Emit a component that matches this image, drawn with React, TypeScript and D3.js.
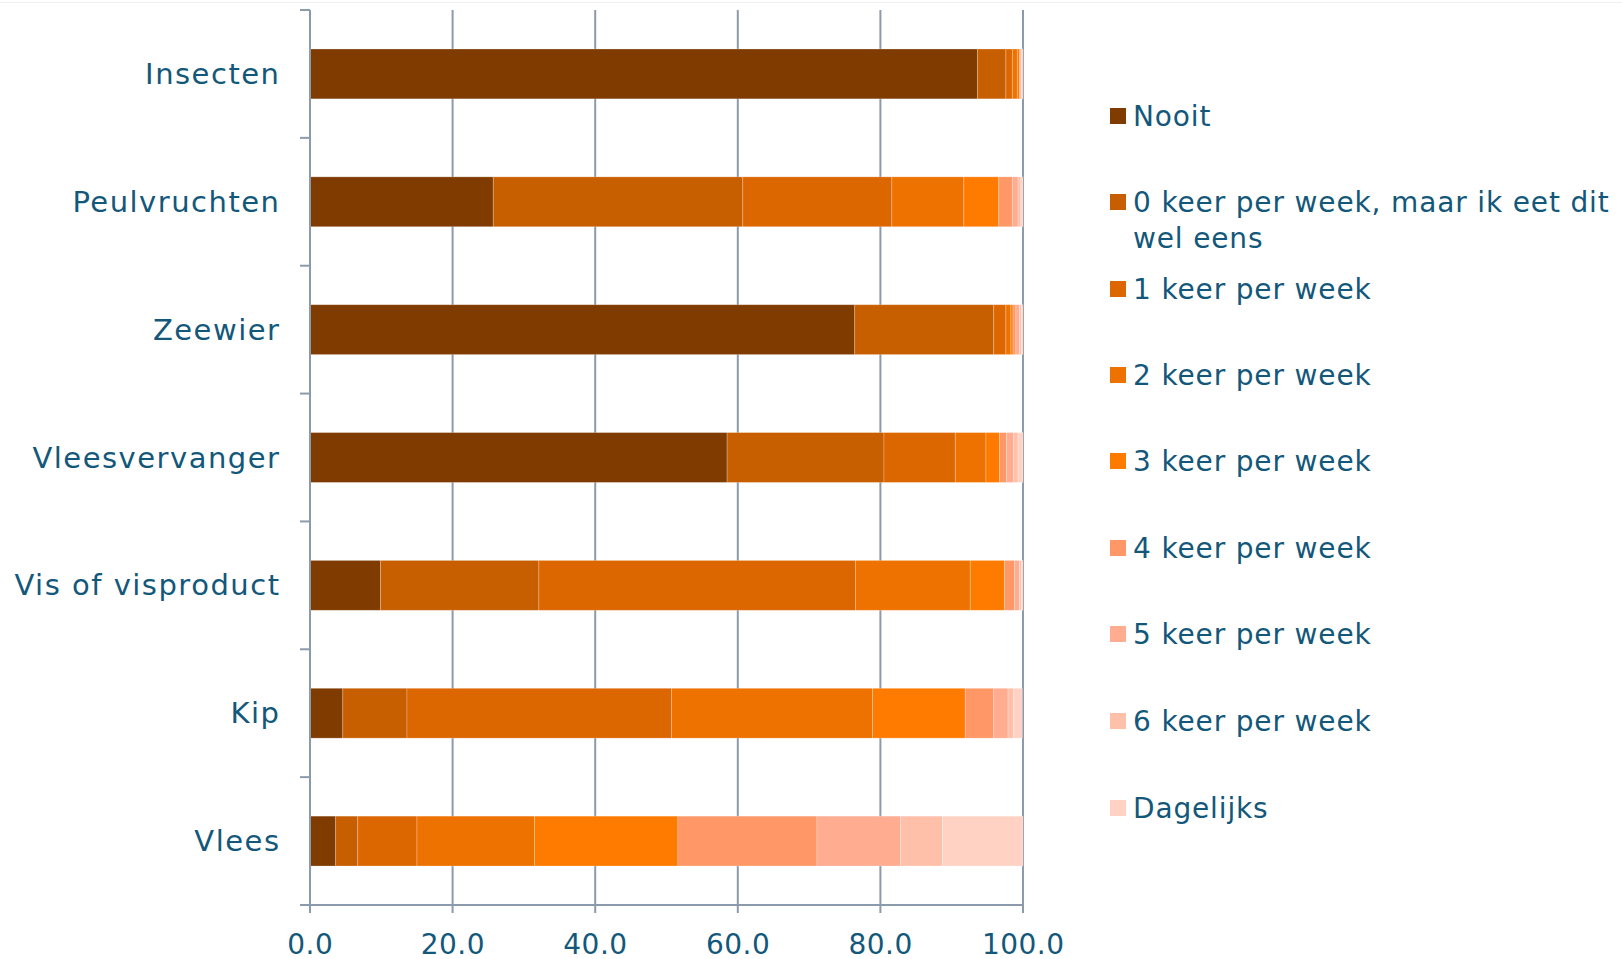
import React from "react";
import * as d3 from "d3";

const categories = ["Insecten", "Peulvruchten", "Zeewier", "Vleesvervanger", "Vis of visproduct", "Kip", "Vlees"];
const seriesNames = [
  "Nooit",
  "0 keer per week, maar ik eet dit wel eens",
  "1 keer per week",
  "2 keer per week",
  "3 keer per week",
  "4 keer per week",
  "5 keer per week",
  "6 keer per week",
  "Dagelijks",
];
const colors = ["#7F3B00", "#C75E00", "#DC6600", "#EE7200", "#FF7B00", "#FF9766", "#FFAC90", "#FFC0AA", "#FFD2C4"];
// values per category, in series order
const insecten = [93.6, 4.0, 0.9, 0.7, 0.3, 0.2, 0.1, 0.1, 0.1];
const peulvruchten = [25.7, 35.0, 20.9, 10.1, 4.9, 1.9, 0.8, 0.4, 0.3];
const zeewier = [76.4, 19.5, 1.7, 0.7, 0.3, 0.4, 0.5, 0.3, 0.2];
const vleesvervanger = [58.5, 22.0, 10.0, 4.3, 1.9, 1.0, 1.0, 0.6, 0.7];
const vis = [9.9, 22.2, 44.4, 16.1, 4.8, 1.4, 0.7, 0.3, 0.2];
const kip = [4.6, 9.0, 37.1, 28.2, 13.0, 4.0, 2.0, 0.8, 1.2];
const vlees = [3.6, 3.1, 8.3, 16.5, 20.1, 19.5, 11.7, 5.9, 11.3];
const xTicks = [0, 20, 40, 60, 80, 100];

const values = [insecten, peulvruchten, zeewier, vleesvervanger, vis, kip, vlees];

const TEXT = "#13587A";
const AXIS = "#8C9BAB";
const FONT = "'DejaVu Sans', Verdana, sans-serif";

export default function App() {
  const W = 1622, H = 959;
  const left = 310, right = 1023, top = 10, bottom = 905;
  const x = d3.scaleLinear().domain([0, 100]).range([left, right]);
  const y = d3.scaleBand<string>().domain(categories).range([top, bottom]).paddingInner(0.61).paddingOuter(0.305);
  const yb = d3.scaleBand<string>().domain(categories).range([top, bottom]);

  const rows = categories.map((c, i) => {
    const obj: any = { cat: c };
    seriesNames.forEach((s, j) => (obj[s] = values[i][j]));
    return obj;
  });
  const stack = d3.stack<any>().keys(seriesNames)(rows);

  const legendX = 1110;
  const legendTextX = 1133;
  const legendY = [116, 202, 289, 375, 461, 548, 634, 721, 808];
  const catLS = 1.5;
  const legLS = 0.85;

  return (
    <svg width={W} height={H} style={{ position: "absolute", left: 0, top: 0, background: "#fff" }} fontFamily={FONT}>
      <line x1={0} x2={W} y1={2.5} y2={2.5} stroke="#EEEEEE" strokeWidth={1} />
      {/* gridlines */}
      {xTicks.slice(1).map((t) => (
        <line key={"g" + t} x1={x(t)} x2={x(t)} y1={top} y2={bottom + 8} stroke={AXIS} strokeWidth={2} />
      ))}
      {/* bars */}
      {stack.map((layer, j) => (
        <g key={"s" + j} fill={colors[j]}>
          {layer.map((d, i) => (
            <rect
              key={i}
              x={x(d[0])}
              y={y(categories[i])!}
              width={Math.max(0, x(d[1]) - x(d[0]))}
              height={y.bandwidth()}
              stroke="rgba(255,255,255,0.3)"
              strokeWidth={0.8}
            />
          ))}
        </g>
      ))}
      {/* y axis */}
      <line x1={left} x2={left} y1={top} y2={bottom + 8} stroke={AXIS} strokeWidth={2} />
      {categories.map((c) => (
        <line key={"t" + c} x1={left - 10} x2={left} y1={yb(c)!} y2={yb(c)!} stroke={AXIS} strokeWidth={2} />
      ))}
      <line x1={left - 10} x2={left} y1={bottom} y2={bottom} stroke={AXIS} strokeWidth={2} />
      {/* x axis */}
      <line x1={left - 10} x2={right} y1={bottom} y2={bottom} stroke={AXIS} strokeWidth={2} />
      {xTicks.map((t) => (
        <text key={"xl" + t} x={x(t) + 0.25} y={944} textAnchor="middle" dominantBaseline="central" fontSize={28} letterSpacing={0.5} fill={TEXT}>
          {t.toFixed(1)}
        </text>
      ))}
      {categories.map((c) => (
        <text key={"yl" + c} x={279 + catLS} y={yb(c)! + yb.bandwidth() / 2} textAnchor="end" dominantBaseline="central" fontSize={29} letterSpacing={catLS} fill={TEXT}>
          {c}
        </text>
      ))}
      {/* legend */}
      {seriesNames.map((s, j) => (
        <g key={"l" + j}>
          <rect x={legendX} y={legendY[j] - 8} width={16} height={16} fill={colors[j]} />
          {j === 1 ? (
            <text x={legendTextX} y={legendY[j]} dominantBaseline="central" fontSize={28} letterSpacing={legLS} fill={TEXT}>
              <tspan x={legendTextX}>0 keer per week, maar ik eet dit</tspan>
              <tspan x={legendTextX} dy={36}>wel eens</tspan>
            </text>
          ) : (
            <text x={legendTextX} y={legendY[j]} dominantBaseline="central" fontSize={28} letterSpacing={legLS} fill={TEXT}>
              {s}
            </text>
          )}
        </g>
      ))}
    </svg>
  );
}
